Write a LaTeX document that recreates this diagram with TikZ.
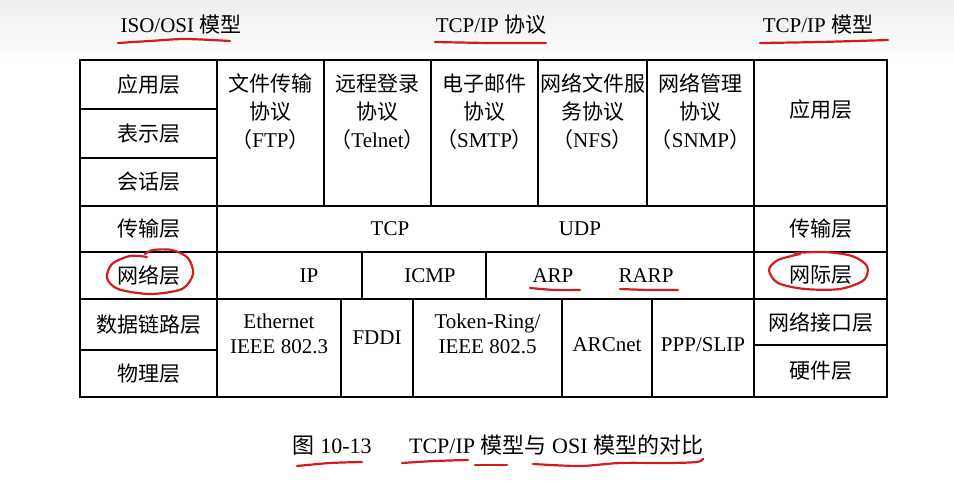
\documentclass[tikz,border=0pt]{standalone}
\usepackage{fontspec}
\setmainfont{Liberation Serif}
\newfontfamily\cjk{Noto Sans CJK SC}
\newcommand{\zh}[1]{{\cjk #1}}
\definecolor{penred}{RGB}{212,28,32}
\tikzset{
  cell/.style={line width=1pt},
  lbl/.style={font=\fontsize{10.5}{14}\selectfont, align=center, inner sep=0pt},
  captext/.style={font=\fontsize{11}{13}\selectfont, inner sep=0pt},
  pen/.style={penred, line width=1.1pt, line cap=round, line join=round},
}
\begin{document}
\begin{tikzpicture}[x=0.5pt, y=-0.5pt]
  \useasboundingbox (0,0) rectangle (954,503);
  \fill[top color=gray!14, bottom color=white] (0,0) rectangle (954,60);

  % headers
  \node[lbl] (hdr-osi) at (181,25) {ISO/OSI \zh{模型}};
  \node[lbl] (hdr-proto) at (491,25) {TCP/IP \zh{协议}};
  \node[lbl] (hdr-tcpip) at (818,25) {TCP/IP \zh{模型}};

  % OSI column
  \foreach \ya/\yb/\name/\txt in {60/109/app/应用层, 109/158/pres/表示层,
      158/206/sess/会话层, 206/252/trans/传输层, 252/299/net/网络层,
      299/350/link/数据链路层, 350/397/phy/物理层} {
    \draw[cell] (80,\ya) rectangle (217,\yb);
    \node[lbl] (osi-\name) at (148.5,{(\ya+\yb)/2}) {\zh{\txt}};
  }

  % TCP/IP column
  \draw[cell] (754,60) rectangle (887,206);
  \draw[cell] (754,206) rectangle (887,252);
  \draw[cell] (754,252) rectangle (887,299);
  \draw[cell] (754,299) rectangle (887,345);
  \draw[cell] (754,345) rectangle (887,397);
  \node[lbl] (tcp-app) at (820.5,110) {\zh{应用层}};
  \node[lbl] (tcp-trans) at (820.5,229) {\zh{传输层}};
  \node[lbl] (tcp-net) at (820.5,275.5) {\zh{网际层}};
  \node[lbl] (tcp-if) at (820.5,322) {\zh{网络接口层}};
  \node[lbl] (tcp-hw) at (820.5,371) {\zh{硬件层}};

  % application protocols
  \foreach \xa/\xb/\name/\first/\second/\abbr in {217/324/ftp/文件传输/协议/FTP,
      324/431/telnet/远程登录/协议/Telnet, 431/538/smtp/电子邮件/协议/SMTP,
      538/647/nfs/网络文件服/务协议/NFS, 647/754/snmp/网络管理/协议/SNMP} {
    \draw[cell] (\xa,60) rectangle (\xb,206);
    \node[lbl] (p-\name) at ({(\xa+\xb)/2},112)
      {\zh{\first}\\\zh{\second}\\\zh{（}\abbr\zh{）}};
  }

  % transport and network protocols
  \draw[cell] (217,206) rectangle (754,252);
  \node[lbl] (p-tcp) at (390,229) {TCP};
  \node[lbl] (p-udp) at (580,229) {UDP};
  \draw[cell] (217,252) rectangle (362,299);
  \draw[cell] (362,252) rectangle (486,299);
  \draw[cell] (486,252) rectangle (754,299);
  \node[lbl] (p-ip) at (309,276) {IP};
  \node[lbl] (p-icmp) at (430,276) {ICMP};
  \node[lbl] (p-arp) at (553,276) {ARP};
  \node[lbl] (p-rarp) at (646,276) {RARP};

  % link protocols
  \draw[cell] (217,299) rectangle (341,397);
  \draw[cell] (341,299) rectangle (413,397);
  \draw[cell] (413,299) rectangle (562,397);
  \draw[cell] (562,299) rectangle (652,397);
  \draw[cell] (652,299) rectangle (754,397);
  \node[lbl, font=\fontsize{10.5}{12.5}\selectfont] (p-eth) at (279,334) {Ethernet\\IEEE 802.3};
  \node[lbl] (p-fddi) at (377,338) {FDDI};
  \node[lbl, font=\fontsize{10.5}{12.5}\selectfont] (p-token) at (487.5,334) {Token-Ring/\\IEEE 802.5};
  \node[lbl] (p-arc) at (607,345) {ARCnet};
  \node[lbl] (p-ppp) at (703,345) {PPP/SLIP};

  % caption
  \node[captext] (caption) at (498,445)
    {\zh{图} 10-13\hspace{1.7em}TCP/IP \zh{模型与} OSI \zh{模型的对比}};

  % red pen marks
  \draw[pen] plot[smooth] coordinates {(118,43) (150,41) (185,39) (230,41)};
  \draw[pen] plot[smooth] coordinates {(435,42) (490,43) (546,43)};
  \draw[pen] plot[smooth] coordinates {(760,43) (820,42) (888,40)};
  \draw[pen] plot[smooth] coordinates {(147,257) (130,256) (112,264) (107,278)
    (118,289) (150,294) (182,289) (193,274) (188,258) (172,250) (153,250) (145,254)};
  \draw[pen] plot[smooth] coordinates {(800,254) (778,260) (769,270) (778,283)
    (805,289) (840,289) (864,280) (867,266) (852,256) (825,252) (795,253)};
  \draw[pen] plot[smooth] coordinates {(530,288) (555,290) (580,290)};
  \draw[pen] plot[smooth] coordinates {(620,289) (650,290) (678,290)};
  \draw[pen] plot[smooth] coordinates {(297,466) (330,463) (362,462)};
  \draw[pen] plot[smooth] coordinates {(402,463) (435,461) (468,460)};
  \draw[pen] plot[smooth] coordinates {(475,465) (491,465) (507,465)};
  \draw[pen] plot[smooth] coordinates {(533,464) (580,466) (620,463) (670,463)
    (697,462) (703,459)};
\end{tikzpicture}
\end{document}
